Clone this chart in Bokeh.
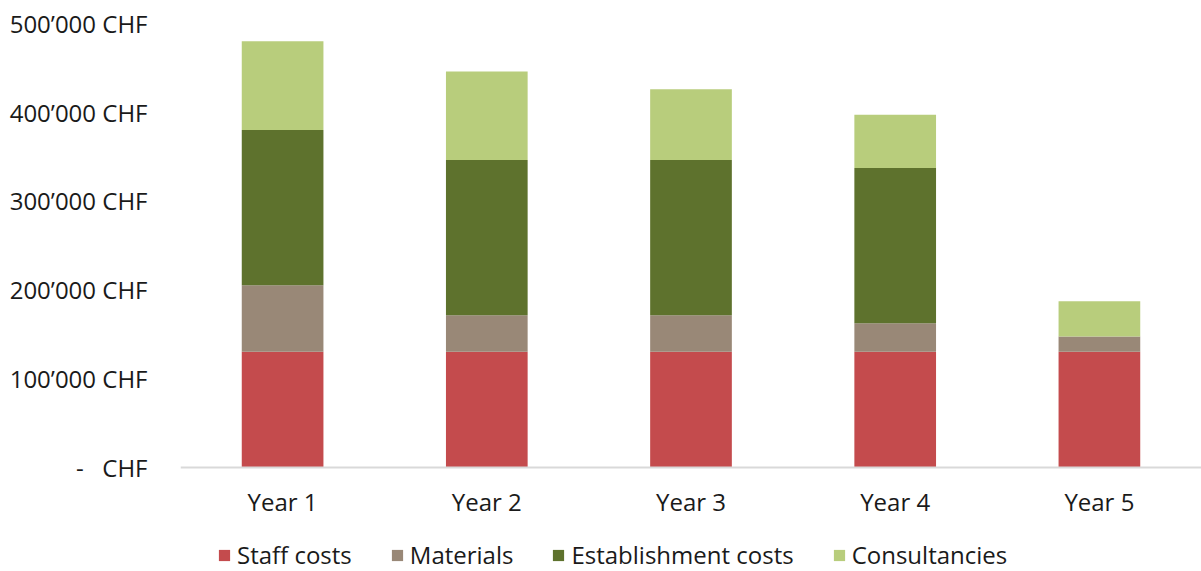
from bokeh.plotting import figure
from bokeh.models import FixedTicker, Legend, LegendItem, Range1d, FactorRange
from bokeh.embed import file_html
from bokeh.resources import INLINE

years = ["Year 1", "Year 2", "Year 3", "Year 4", "Year 5"]
staff_costs = [130000, 130000, 130000, 130000, 130000]
materials = [75000, 41000, 41000, 32000, 17000]
establishment_costs = [175000, 175000, 175000, 175000, 0]
consultancies = [100000, 100000, 80000, 60000, 40000]

series_names = ["Staff costs", "Materials", "Establishment costs", "Consultancies"]
series_values = [staff_costs, materials, establishment_costs, consultancies]
colors = ["#C44B4D", "#998877", "#5E722D", "#B8CD7C"]

y_ticks = [0, 100000, 200000, 300000, 400000, 500000]
y_tick_labels = ["-\u00a0\u00a0\u00a0CHF", "100\u2019000 CHF", "200\u2019000 CHF", "300\u2019000 CHF",
                 "400\u2019000 CHF", "500\u2019000 CHF"]

FONT = "Open Sans"
TXT = "#1a1a1a"
FS = "24px"

p = figure(width=1201, height=571, x_range=FactorRange(*years, range_padding=0),
           y_range=Range1d(-117800, 500000), output_backend="svg", toolbar_location=None,
           min_border_left=180, min_border_right=0, min_border_top=23, min_border_bottom=0)
p.outline_line_color = None
p.xgrid.grid_line_color = None
p.ygrid.grid_line_color = None

data = {"years": years}
for n, v in zip(series_names, series_values):
    data[n] = v

renderers = p.vbar_stack(series_names, x="years", width=0.4, color=colors, source=data,
                         line_color=None)

items = [LegendItem(label=n, renderers=[r]) for n, r in zip(series_names, renderers)]
legend = Legend(items=items, orientation="horizontal", location=(37, 0),
                label_text_font=FONT, label_text_font_size=FS, label_text_color=TXT,
                glyph_width=14, glyph_height=14, label_standoff=6, spacing=38,
                padding=0, margin=0, border_line_alpha=0, background_fill_alpha=0)
p.add_layout(legend, "center")

p.yaxis.ticker = FixedTicker(ticks=y_ticks)
p.yaxis.major_label_overrides = {t: l for t, l in zip(y_ticks, y_tick_labels)}
p.yaxis.axis_line_color = None
p.yaxis.major_tick_line_color = None
p.yaxis.minor_tick_line_color = None
p.yaxis.major_label_standoff = 27
p.yaxis.major_label_text_font = FONT
p.yaxis.major_label_text_font_size = FS
p.yaxis.major_label_text_color = TXT

p.xaxis.fixed_location = 0
p.xaxis.axis_line_color = "#D9D9D9"
p.xaxis.axis_line_width = 2
p.xaxis.major_tick_line_color = None
p.xaxis.minor_tick_line_color = None
p.xaxis.major_label_standoff = 12
p.xaxis.major_label_text_font = FONT
p.xaxis.major_label_text_font_size = FS
p.xaxis.major_label_text_color = TXT

open("out.html", "w").write(file_html(p, INLINE))
